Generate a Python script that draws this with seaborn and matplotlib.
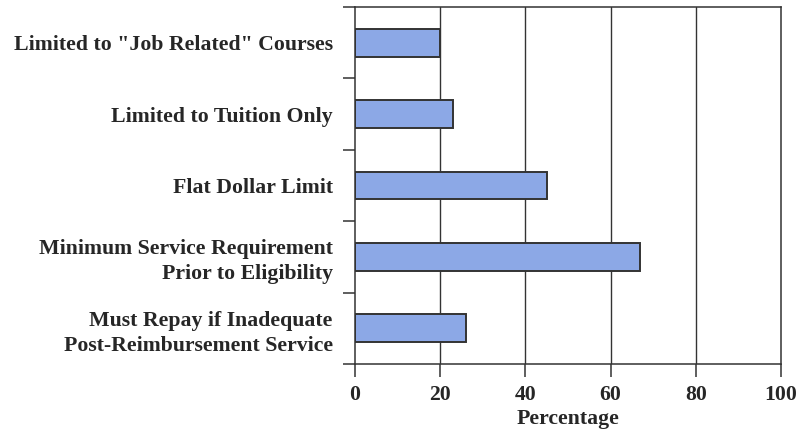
import matplotlib
matplotlib.use("Agg")
import matplotlib.pyplot as plt
import seaborn as sns
import pandas as pd
import numpy as np

categories = [
    'Limited to "Job Related" Courses',
    'Limited to Tuition Only',
    'Flat Dollar Limit',
    'Minimum Service Requirement\nPrior to Eligibility',
    'Must Repay if Inadequate\nPost-Reimbursement Service',
]
percentages = [20, 23, 45, 67, 26]
x_ticks = [0, 20, 40, 60, 80, 100]

df = pd.DataFrame({"category": categories, "pct": percentages})

sns.set_theme(style="white")
plt.rcParams["font.family"] = ["Liberation Serif", "DejaVu Serif"]
plt.rcParams["font.weight"] = "bold"

text_color = "#262626"
line_color = "#333333"
fs = 15.7

fig = plt.figure(figsize=(7.98, 4.34), dpi=100)
ax = fig.add_axes([355 / 798, 1 - 364 / 434, (781 - 355) / 798, (364 - 7) / 434])

# vertical reference lines behind the bars
for xv in x_ticks[1:-1]:
    ax.axvline(xv, color=line_color, lw=1.0, zorder=0)

sns.barplot(data=df, x="pct", y="category", orient="h", ax=ax,
            color="#8ca8e6", saturation=1, width=0.39,
            edgecolor=line_color, linewidth=1.4, zorder=2)

ax.set_xlim(0, 100)
ax.set_ylim(4.5, -0.5)
ax.set_xticks(x_ticks)
ax.set_xticklabels([str(v) for v in x_ticks], fontsize=fs, fontweight="bold",
                   color=text_color)
ax.set_xlabel("Percentage", fontsize=fs, fontweight="bold", color=text_color,
              labelpad=3)
ax.set_ylabel("")

# category labels sit between the boundary tick marks
ax.set_yticks(np.arange(len(categories)))
ax.set_yticklabels(categories, fontsize=fs, fontweight="bold", color=text_color,
                   linespacing=1.32, ha="right")
ax.set_yticks(np.arange(len(categories) + 1) - 0.5, minor=True)
ax.tick_params(axis="y", which="major", length=0, pad=16)
ax.tick_params(axis="y", which="minor", length=9, width=1.1, color=line_color,
               direction="out", left=True)
ax.tick_params(axis="x", which="major", length=9, width=1.1, color=line_color,
               direction="out", bottom=True, pad=6)

for s in ax.spines.values():
    s.set_visible(True)
    s.set_color(line_color)
    s.set_linewidth(1.1)

fig.savefig("out.png", dpi=100, facecolor="white")
